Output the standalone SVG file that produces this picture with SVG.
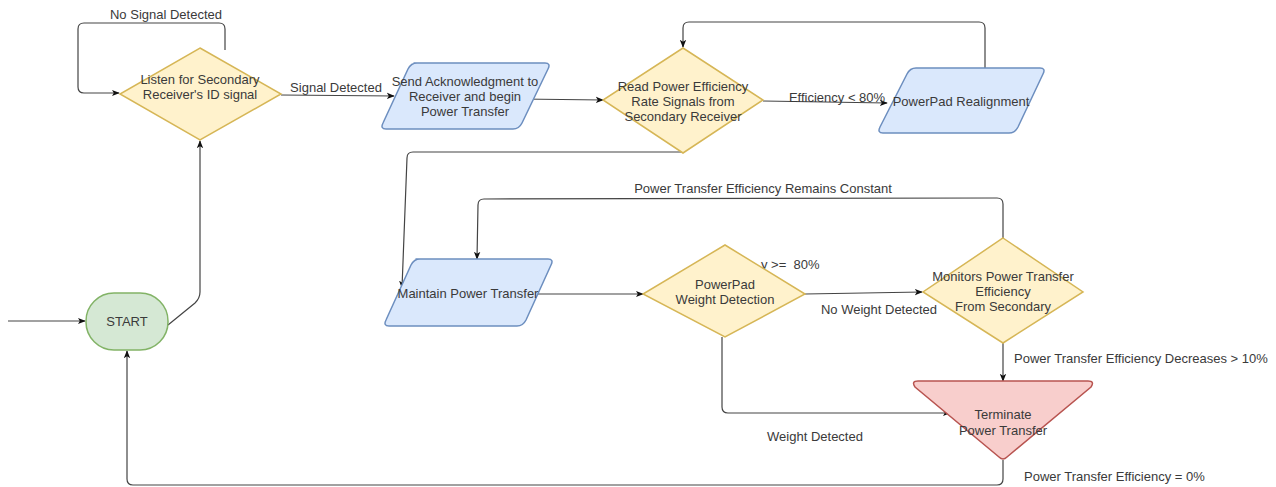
<svg xmlns="http://www.w3.org/2000/svg" width="1276" height="487" viewBox="0 0 1276 487">
<style>
text{font-family:"Liberation Sans",Arial,sans-serif;font-size:13px;fill:#3a3a3a;}
.c{text-anchor:middle;}
.e{fill:none;stroke:#444;stroke-width:1.2;}
.dia{fill:#fff2cc;stroke:#d6b656;stroke-width:1.5;}
.par{fill:#dae8fc;stroke:#6c8ebf;stroke-width:1.5;stroke-linejoin:round;}
</style>
<defs>
<marker id="ar" viewBox="0 0 10 10" refX="9" refY="5" markerWidth="8" markerHeight="8" orient="auto" markerUnits="userSpaceOnUse">
<path d="M0,1 L10,5 L0,9 L2.5,5 Z" fill="#111"/>
</marker>
</defs>
<rect width="1276" height="487" fill="#fff"/>
<g id="connectors">
<path class="e" d="M8,321 L85,321" marker-end="url(#ar)"/>
<path class="e" d="M168,325 L195,303 Q200,298 200,292 L200,141" marker-end="url(#ar)"/>
<path class="e" d="M225,50 L225,29 Q225,23 219,23 L84,23 Q78,23 78,29 L78,87 Q78,93 84,93 L119,93" marker-end="url(#ar)"/>
<path class="e" d="M281,95 L394,96" marker-end="url(#ar)"/>
<path class="e" d="M520,99 L603,100" marker-end="url(#ar)"/>
<path class="e" d="M763,101 L887,103" marker-end="url(#ar)"/>
<path class="e" d="M985,68 L985,28 Q985,22 979,22 L689,22 Q683,22 683,28 L683,47" marker-end="url(#ar)"/>
<path class="e" d="M683,152 L413,152 Q407,152 407,158 L402,288" marker-end="url(#ar)"/>
<path class="e" d="M537,294 L643,294" marker-end="url(#ar)"/>
<path class="e" d="M805,294 L922,292" marker-end="url(#ar)"/>
<path class="e" d="M1003,238 L1003,204 Q1003,198 997,198 L484,199 Q478,199 478,205 L477,259" marker-end="url(#ar)"/>
<path class="e" d="M1003,343 L1003,381" marker-end="url(#ar)"/>
<path class="e" d="M722,337 L722,407 Q722,413 728,413 L950,413" marker-end="url(#ar)"/>
<path class="e" d="M1003,460 L1003,479 Q1003,485 997,485 L133,485 Q127,485 127,479 L127,351" marker-end="url(#ar)"/>
<text x="166" y="19" class="c">No Signal Detected</text>
<text x="336" y="92" class="c">Signal Detected</text>
<text x="837" y="102" class="c">Efficiency &lt; 80%</text>
<text x="761" y="269">y &gt;=&#160; 80%</text>
<text x="763" y="193" class="c">Power Transfer Efficiency Remains Constant</text>
<text x="879" y="314" class="c">No Weight Detected</text>
<text x="1014" y="363">Power Transfer Efficiency Decreases &gt; 10%</text>
<text x="815" y="441" class="c">Weight Detected</text>
<text x="1024" y="481">Power Transfer Efficiency = 0%</text>
</g>
<g id="start">
<rect x="86" y="293" width="82" height="57" rx="28" ry="28" fill="#d5e8d4" stroke="#82b366" stroke-width="1.5"/>
<text x="127" y="326" class="c">START</text>
</g>
<g id="listen">
<polygon class="dia" points="200,48 281,94 200,140 120,94"/>
<text x="200" y="84" class="c">Listen for Secondary</text>
<text x="200" y="99" class="c">Receiver's ID signal</text>
</g>
<g id="send">
<path class="par" d="M414,63 L545,63 Q551,63 548,69 L522,123 Q519,129 513,129 L386,129 Q380,129 383,123 L408,69 Q411,63 417,63 Z"/>
<text x="465" y="86" class="c">Send Acknowledgment to</text>
<text x="465" y="101" class="c">Receiver and begin</text>
<text x="465" y="116" class="c">Power Transfer</text>
</g>
<g id="read">
<polygon class="dia" points="683,48 763,100 683,153 603,100"/>
<text x="683" y="91" class="c">Read Power Efficiency</text>
<text x="683" y="106" class="c">Rate Signals from</text>
<text x="683" y="121" class="c">Secondary Receiver</text>
</g>
<g id="realign">
<path class="par" d="M916,68 L1040,68 Q1046,68 1043,74 L1018,127 Q1015,133 1009,133 L883,133 Q877,133 880,127 L907,74 Q910,68 916,68 Z"/>
<text x="961" y="106" class="c">PowerPad Realignment</text>
</g>
<g id="maintain">
<path class="par" d="M416,259 L548,259 Q554,259 551,265 L526,320 Q523,326 517,326 L389,326 Q383,326 386,320 L411,265 Q414,259 420,259 Z"/>
<text x="468" y="298" class="c">Maintain Power Transfer</text>
</g>
<g id="weight">
<polygon class="dia" points="725,245 805,294 725,337 643,294"/>
<text x="725" y="289" class="c">PowerPad</text>
<text x="725" y="304" class="c">Weight Detection</text>
</g>
<g id="monitor">
<polygon class="dia" points="1003,238 1083,292 1003,343 923,292"/>
<text x="1003" y="281" class="c">Monitors Power Transfer</text>
<text x="1003" y="296" class="c">Efficiency</text>
<text x="1003" y="311" class="c">From Secondary</text>
</g>
<g id="terminate">
<path d="M918,381 L1088,381 Q1095,381 1091,387 L1007,457 Q1003,461 999,457 L915,387 Q911,381 918,381 Z" fill="#f8cecc" stroke="#b85450" stroke-width="1.5"/>
<text x="1003" y="419" class="c">Terminate</text>
<text x="1003" y="435" class="c">Power Transfer</text>
</g>
</svg>
